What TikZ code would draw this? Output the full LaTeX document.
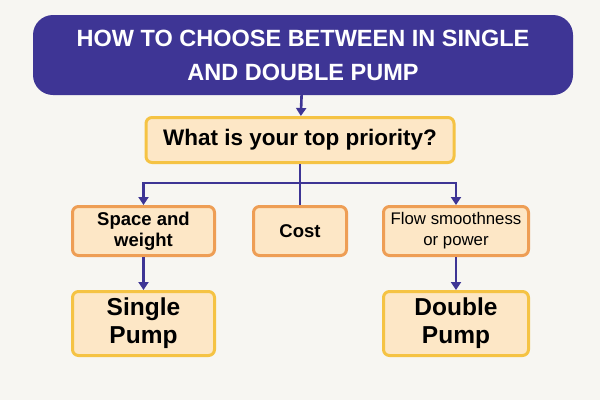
\documentclass[tikz,border=0pt]{standalone}
\usepackage{fontspec}
\setmainfont{Liberation Sans}
\usepackage{tikz}
\usetikzlibrary{arrows.meta}
\definecolor{bgc}{HTML}{F7F6F2}
\definecolor{navy}{HTML}{3E3595}
\definecolor{peach}{HTML}{FDE7C6}
\definecolor{orng}{HTML}{EE9E55}
\definecolor{gold}{HTML}{F5C344}

\begin{document}
\begin{tikzpicture}[x=1pt,y=-1pt,
  titlebox/.style={fill=navy,rounded corners=20pt,text=white,align=center,font=\bfseries\fontsize{23.5}{34}\selectfont},
  askbox/.style={fill=peach,draw=gold,line width=3pt,rounded corners=6pt,align=center},
  optbox/.style={fill=peach,draw=orng,line width=3pt,rounded corners=6pt,align=center,font=\bfseries\fontsize{18.5}{21}\selectfont},
  pumpbox/.style={fill=peach,draw=gold,line width=3pt,rounded corners=6pt,align=center,font=\bfseries\fontsize{24.5}{28}\selectfont},
  link/.style={draw=navy,line width=2.6pt},
  >={Triangle[width=10pt,length=8pt]}]

\fill[bgc] (0,0) rectangle (600,400);
\useasboundingbox (0,0) rectangle (600,400);

\node[titlebox,minimum width=540pt,minimum height=80pt](title) at (303,55){HOW TO CHOOSE BETWEEN IN SINGLE\\AND DOUBLE PUMP};
\node[askbox,minimum width=308pt,minimum height=45pt,font=\bfseries\fontsize{22.5}{26}\selectfont](ask) at (300,140){What is your top priority?};
\node[optbox,minimum width=142pt,minimum height=49pt](space) at (143.5,231){Space and\\weight};
\node[optbox,minimum width=93pt,minimum height=49pt](cost) at (300,231){Cost};
\node[optbox,minimum width=145pt,minimum height=49pt,font=\fontsize{16.8}{21}\selectfont](flow) at (456,231){Flow smoothness\\or power};
\node[pumpbox,minimum width=142pt,minimum height=64pt](single) at (143.5,323.5){Single\\Pump};
\node[pumpbox,minimum width=145pt,minimum height=64pt](double) at (456,323.5){Double\\Pump};
\coordinate(split) at (300,183);

\draw[link,->](title)--(ask);
\draw[link](ask)--(cost);
\draw[link,->](split)-|(space);
\draw[link,->](split)-|(flow);
\draw[link,->](space)--(single);
\draw[link,->](flow)--(double);

\end{tikzpicture}
\end{document}
